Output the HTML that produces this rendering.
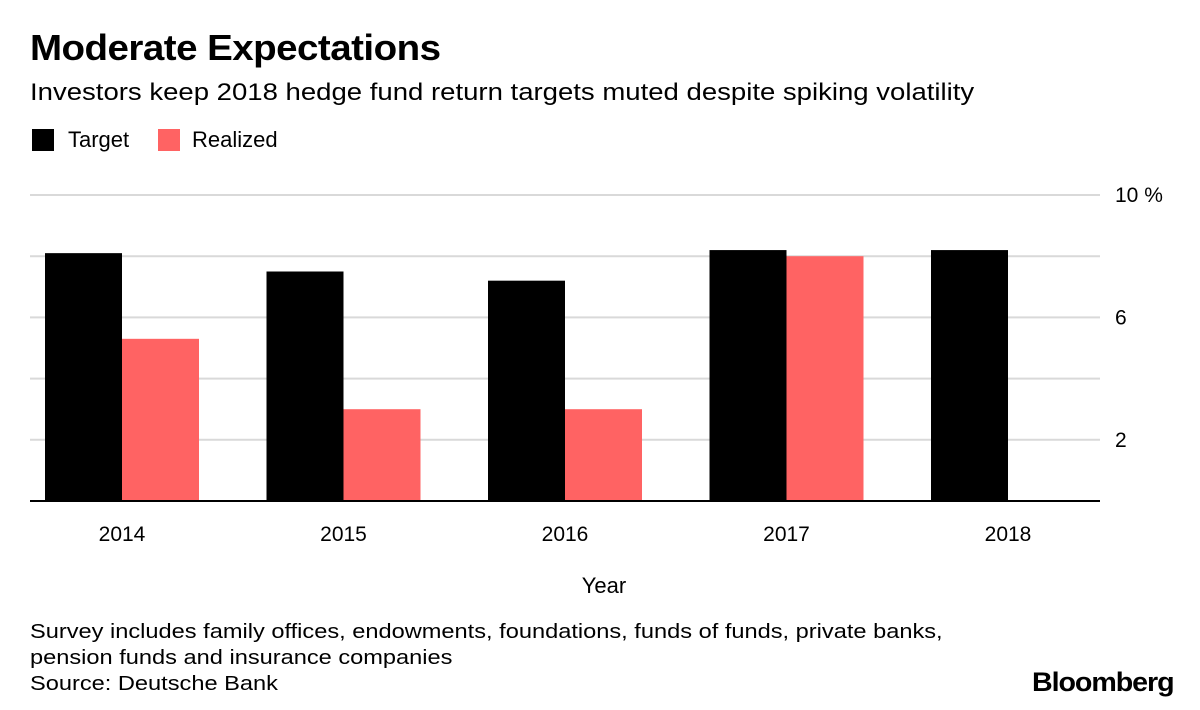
<!DOCTYPE html>
<html><head><meta charset="utf-8"><style>
body{margin:0;width:1200px;height:710px;background:#fff;font-family:"Liberation Sans",sans-serif;overflow:hidden;position:relative}
.t{position:absolute;white-space:nowrap;color:#000;transform-origin:0 0}
</style></head><body>
<div class="t" style="left:30px;top:27px;font-size:36px;font-weight:bold;letter-spacing:-0.5px;transform:scaleX(1.07)">Moderate Expectations</div>
<div class="t" style="left:30px;top:79px;font-size:24px;transform:scaleX(1.147)">Investors keep 2018 hedge fund return targets muted despite spiking volatility</div>
<div style="position:absolute;left:32px;top:129px;width:22px;height:22px;background:#000"></div>
<div class="t" style="left:68px;top:127px;font-size:22px">Target</div>
<div style="position:absolute;left:158px;top:129px;width:22px;height:22px;background:#ff6363"></div>
<div class="t" style="left:192px;top:127px;font-size:22px">Realized</div>
<svg id="chart" width="1200" height="710" style="position:absolute;left:0;top:0"></svg>
<div class="t" style="left:30px;top:619px;font-size:20px;line-height:26px;transform:scaleX(1.18)">Survey includes family offices, endowments, foundations, funds of funds, private banks,<br>pension funds and insurance companies<br>Source: Deutsche Bank</div>
<div class="t" style="left:1032px;top:667px;font-size:27px;font-weight:bold;letter-spacing:-1px;transform:scaleX(1.06)">Bloomberg</div>
<script>
const years=["2014","2015","2016","2017","2018"];
const target=[8.1,7.5,7.2,8.2,8.2];
const realized=[5.3,3.0,3.0,8.0,null];
const gridVals=[2,4,6,8,10];
const tickLabels=["2","6","10 %"];
const tickVals=[2,6,10];
const svg=document.getElementById('chart');
const NS='http://www.w3.org/2000/svg';
const y=v=>501-v*30.6;
const xc=i=>122+i*221.5;
function el(tag,attrs){const e=document.createElementNS(NS,tag);for(const k in attrs)e.setAttribute(k,attrs[k]);svg.appendChild(e);return e;}
gridVals.forEach(v=>{const g=el('line',{x1:30,x2:1100,y1:y(v),y2:y(v),stroke:'#d9d9d9','stroke-width':2});

});
tickVals.forEach((v,i)=>{const t=el('text',{x:1115,y:y(v)+7,'font-size':21,'font-family':'Liberation Sans, sans-serif'});t.textContent=tickLabels[i];

});
years.forEach((yr,i)=>{
const b=el('rect',{x:xc(i)-77,y:y(target[i]),width:77,height:501-y(target[i]),fill:'#000'});


if(realized[i]!=null){const r=el('rect',{x:xc(i),y:y(realized[i]),width:77,height:501-y(realized[i]),fill:'#ff6363'});

}
const t=el('text',{x:xc(i),y:541,'font-size':21,'text-anchor':'middle','font-family':'Liberation Sans, sans-serif'});t.textContent=yr;


});
const ax=el('line',{x1:30,x2:1100,y1:501,y2:501,stroke:'#000','stroke-width':2});


const xt=el('text',{x:604,y:593,'font-size':22,'text-anchor':'middle','font-family':'Liberation Sans, sans-serif'});xt.textContent='Year';


</script>
</body></html>
